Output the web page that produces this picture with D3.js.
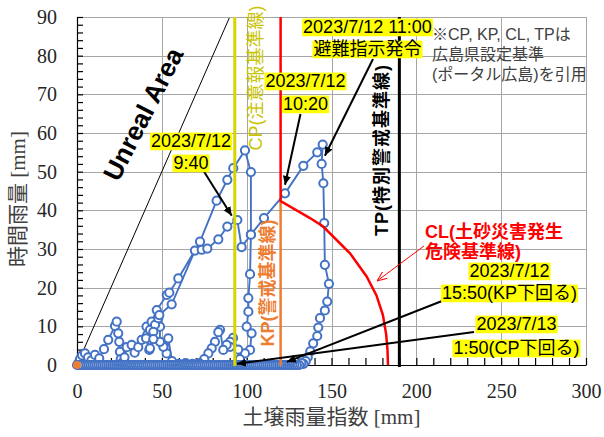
<!DOCTYPE html>
<html>
<head>
<meta charset="utf-8">
<script src="https://cdn.jsdelivr.net/npm/d3@7"></script>
<style>
  body { margin: 0; background: #fff; }
  svg { display: block; }
  .tick-labels text { font-family: "Liberation Serif", "Times New Roman", serif; font-size: 20px; fill: #262626; }
  .axis-title { font-family: "Liberation Serif", "Noto Sans CJK JP", serif; font-size: 21px; fill: #404040; }
  .callout { font-family: "Liberation Sans", "Noto Sans CJK JP", sans-serif; font-size: 18px; fill: #000; }
  .note { font-family: "Liberation Sans", "Noto Sans CJK JP", sans-serif; font-size: 16px; fill: #404040; }
  .line-label { font-family: "Liberation Sans", "Noto Sans CJK JP", sans-serif; font-size: 18px; }
</style>
</head>
<body>
<svg id="chart"></svg>
<script>
// set svg size and plot margins
const width = 604;
const height = 437;
const margin = { top: 17, right: 18, bottom: 72, left: 77 };

// snake line: soil water index [mm] vs hourly rainfall [mm], in time order
const soilIndex = [
  0, 0.8, 1.8, 3, 4.7, 6.5, 8.5, 10.6, 13.1, 15.9, 18.4, 22.4, 23.4, 24.3, 24.9, 25.3, 25.8, 26.5,
  28, 29.3, 32.2, 34, 36.1, 38.1, 41, 41.4, 43, 44, 47, 52.9, 54.4, 59.7, 72.5, 82.3, 88.6, 92.1,
  99, 102.5, 102.5, 102, 101, 101, 100, 102.9, 102, 99, 96, 95, 92, 90.2, 90.2, 88.2, 86.2, 84.3, 83.3, 81.3,
  79.4, 77.4, 75, 72, 68, 64, 60, 56, 53.8, 52.8, 50.9, 48.9, 48.9, 46, 45, 42.6, 40.7, 43, 45, 47.9, 48.5,
  55.8, 69.5, 73.5, 76.8, 83.3, 88.6, 94.5, 97, 102.5, 110.2, 122.6, 133.4, 141.6, 144.8, 144.2, 145.2, 145.7, 146.1, 148.5,
  147.5, 146.1, 143.2, 142.2, 141.6, 139.2, 137.5, 136, 134.8, 133.5, 132.2, 131
];
const hourlyRain = [
  0, 0.5, 1.5, 2.5, 3, 2, 1.2, 2.6, 1.7, 4.1, 6.5, 10.1, 11.2, 8.2, 6, 3.4, 1.5, 0.5,
  2, 4.6, 5.2, 3.2, 4.6, 6.5, 9.9, 7.8, 9.1, 11.2, 14.2, 18.1, 18.7, 22.4, 31.9, 42.5, 47.9, 50.9,
  55.5, 49.9, 33.7, 23.5, 17.3, 13.8, 9.9, 8.2, 3.9, 3, 1.5, 4, 7, 6, 4.7, 5.2, 3.9, 9.1, 8.5, 6,
  4.3, 3, 1.5, 0.5, 0.3, 0.5, 0.3, 1, 6.9, 3, 4.7, 6, 9.9, 10.4, 8.6, 3.9, 6.9, 4.3, 6.7, 12.1, 12.9,
  15.7, 29.6, 29.8, 30.1, 32.5, 35.8, 37.5, 30.5, 33.7, 38, 44.4, 51.5, 55, 57, 52, 47, 36.7, 25.9, 21,
  16.4, 14.1, 12.1, 9.7, 7.5, 5.6, 3.5, 2, 1, 0.3, 0.5, 0
];
// dry spell after the event: hourly rainfall 0, soil index falling (dense 10-minute steps)
const recessionIndex = [
  129.6, 128.2, 126.9, 125.6, 124.4, 123.2, 122, 120.8, 119.6, 118.4, 117.2, 116, 114.8, 113.6,
  112.4, 111.2, 110, 108.8, 107.6, 106.4, 105.2, 104, 102.8, 101.6, 100.4, 99.2, 98, 96.8, 95.6,
  94.4, 93.2, 92, 90.8, 89.6, 88.4, 87.2, 86, 84.8, 83.6, 82.4, 81.2, 80, 78.8, 77.6, 76.4, 75.2,
  74, 72.8, 71.6, 70.4, 69.2, 68, 66.8, 65.6, 64.4, 63.2, 62, 60.8, 59.6, 58.4, 57.2, 56, 54.8,
  53.6, 52.4, 51.2, 50, 48.8, 47.6, 46.4, 45.2, 44, 42.8, 41.6, 40.4, 39.2, 38, 36.8, 35.6, 34.4,
  33.2, 32, 30.8, 29.6, 28.4, 27.2, 26, 24.8, 23.6, 22.4, 21.2, 20, 18.8, 17.6, 16.4, 15.2, 14,
  12.8, 11.6, 10.4, 9.2, 8, 6.8, 5.6, 4.4, 3.2, 2, 0.8
];

// reference lines (広島県設定基準)
const cpLevel = 93;
const kpLevel = 120;
const tpLevel = 190;
const clIndex = [120, 120, 137.3, 145.1, 160.9, 170.7, 176.5, 180.3, 182.2, 183, 183.3];
const clRain = [90, 42.4, 38, 35.8, 28.9, 22.9, 18, 12.9, 8, 4, 0];

const xTicks = [0, 50, 100, 150, 200, 250, 300];
const yTicks = [0, 10, 20, 30, 40, 50, 60, 70, 80, 90];

const blue = "#4472c4";
const orange = "#ed7d31";

const svg = d3.select("#chart").attr("width", width).attr("height", height);

const x = d3.scaleLinear().domain([0, 300]).range([margin.left, width - margin.right]);
const y = d3.scaleLinear().domain([0, 90]).range([height - margin.bottom, margin.top]);

function translate(a, b) {
  return "translate(" + String(a) + "," + String(b) + ")";
}

// axes go first so the dry-spell points sit on top of the x axis like in excel
drawGrid();
drawAxis();
drawSnake();
drawThresholds();
drawTitles();
drawCallouts();

function drawGrid() {
  let grid = svg.append("g").attr("id", "grid").attr("stroke", "#a6a6a6").attr("stroke-width", 1);
  grid.selectAll("line.h").data(yTicks.slice(1)).join("line")
    .attr("class", "h")
    .attr("x1", x(0)).attr("x2", x(300))
    .attr("y1", d => Math.round(y(d)) + 0.5).attr("y2", d => Math.round(y(d)) + 0.5);
  grid.selectAll("line.v").data(xTicks.slice(1)).join("line")
    .attr("class", "v")
    .attr("y1", y(0)).attr("y2", y(90))
    .attr("x1", d => Math.round(x(d)) + 0.5).attr("x2", d => Math.round(x(d)) + 0.5);

  // unreal area boundary (rain can not exceed index)
  svg.append("line")
    .attr("x1", x(0)).attr("y1", y(0)).attr("x2", x(90)).attr("y2", y(90))
    .attr("stroke", "#000").attr("stroke-width", 1);
  svg.append("text")
    .attr("transform", translate(143, 114) + " rotate(-63)")
    .attr("text-anchor", "middle").attr("dy", "0.35em")
    .attr("font-family", "Liberation Sans, Arial, sans-serif")
    .attr("font-weight", "bold").attr("font-size", 26)
    .text("Unreal Area");
}

function drawSnake() {
  let pts = soilIndex.map((d, i) => ({ x: d, y: hourlyRain[i] }))
    .concat(recessionIndex.map(d => ({ x: d, y: 0 })));

  let line = d3.line().x(d => x(d.x)).y(d => y(d.y));
  svg.append("path").datum(pts)
    .attr("d", line)
    .attr("fill", "none").attr("stroke", blue).attr("stroke-width", 1.9);

  svg.append("g").attr("id", "points")
    .selectAll("circle").data(pts).join("circle")
    .attr("cx", d => x(d.x)).attr("cy", d => y(d.y)).attr("r", 4.1)
    .attr("fill", "#fff").attr("stroke", blue).attr("stroke-width", 2);

  // start point
  svg.append("circle").attr("cx", x(0)).attr("cy", y(0)).attr("r", 4).attr("fill", orange);
}

function drawThresholds() {
  svg.append("line")
    .attr("x1", x(cpLevel)).attr("x2", x(cpLevel)).attr("y1", y(0) + 1).attr("y2", y(90))
    .attr("stroke", "#d8d400").attr("stroke-width", 3);
  svg.append("line")
    .attr("x1", x(kpLevel)).attr("x2", x(kpLevel)).attr("y1", y(0) + 1).attr("y2", y(42.4))
    .attr("stroke", orange).attr("stroke-width", 2.5);
  svg.append("line")
    .attr("x1", x(tpLevel)).attr("x2", x(tpLevel)).attr("y1", y(0) + 2).attr("y2", y(90))
    .attr("stroke", "#000").attr("stroke-width", 3);

  let cl = clIndex.map((d, i) => [x(d), y(clRain[i])]);
  svg.append("path")
    .attr("d", d3.line()(cl))
    .attr("fill", "none").attr("stroke", "#ff0000").attr("stroke-width", 2.5);

  // rotated labels next to the lines
  svg.append("text").attr("class", "line-label")
    .attr("transform", translate(256, 78) + " rotate(-90)")
    .attr("text-anchor", "middle").attr("dy", "0.35em")
    .attr("fill", "#c8c400")
    .text("CP(注意報基準線)");
  svg.append("text").attr("class", "line-label")
    .attr("transform", translate(268, 283) + " rotate(-90)")
    .attr("text-anchor", "middle").attr("dy", "0.35em")
    .attr("fill", orange).attr("font-weight", "bold")
    .text("KP(警戒基準線)");
  svg.append("text").attr("class", "line-label")
    .attr("transform", translate(382, 150) + " rotate(-90)")
    .attr("text-anchor", "middle").attr("dy", "0.35em")
    .attr("fill", "#000").attr("font-weight", "bold").attr("letter-spacing", 1)
    .text("TP(特別警戒基準線)");
}

function drawAxis() {
  // plot border top / right
  svg.append("path")
    .attr("d", "M" + x(0) + "," + (y(90) + 0.5) + "H" + (x(300) + 0.5) + "V" + y(0))
    .attr("fill", "none").attr("stroke", "#a6a6a6");

  let xMinor = d3.axisBottom(x).tickValues(d3.range(0, 301, 10)).tickSize(-7).tickSizeOuter(0).tickFormat("");
  let yMinor = d3.axisLeft(y).tickValues(d3.range(0, 91, 2)).tickSize(-6).tickSizeOuter(0).tickFormat("");

  svg.append("g").attr("id", "x-axis").attr("transform", translate(0, y(0))).call(xMinor);
  svg.append("g").attr("id", "y-axis").attr("transform", translate(x(0), 0)).call(yMinor);
  svg.selectAll("#x-axis path, #x-axis line, #y-axis path, #y-axis line").attr("stroke", "#000").attr("stroke-width", 1.2);

  svg.append("g").attr("class", "tick-labels")
    .attr("transform", translate(0, y(0)))
    .call(d3.axisBottom(x).tickValues(xTicks).tickSize(0).tickPadding(19))
    .call(g => g.select(".domain").remove())
    .attr("font-size", null).attr("font-family", null);

  svg.append("g").attr("class", "tick-labels")
    .attr("transform", translate(x(0), 0))
    .call(d3.axisLeft(y).tickValues(yTicks).tickSize(0).tickPadding(20))
    .call(g => g.select(".domain").remove())
    .attr("font-size", null).attr("font-family", null);
}

function drawTitles() {
  svg.append("text").attr("class", "axis-title")
    .attr("x", (x(0) + x(300)) / 2).attr("y", 424)
    .attr("text-anchor", "middle")
    .text("土壌雨量指数 [mm]");

  svg.append("text").attr("class", "axis-title")
    .attr("transform", translate(18, 199) + " rotate(-90)")
    .attr("text-anchor", "middle").attr("dy", "0.35em")
    .text("時間雨量 [mm]");

  let note = svg.append("text").attr("class", "note");
  ["※CP, KP, CL, TPは", "広島県設定基準", "(ポータル広島)を引用"].forEach((s, i) => {
    note.append("tspan").attr("x", 432).attr("y", 40 + i * 20).text(s);
  });

  let cl = svg.append("text").attr("class", "line-label")
    .attr("fill", "#ff0000").attr("font-weight", "bold");
  ["CL(土砂災害発生", "危険基準線)"].forEach((s, i) => {
    cl.append("tspan").attr("x", 425).attr("y", 238 + i * 20).text(s);
  });
}

function drawCallouts() {
  let defs = svg.append("defs");
  defs.append("marker").attr("id", "head")
    .attr("viewBox", "0 -5 10 10").attr("refX", 10).attr("refY", 0)
    .attr("markerWidth", 9).attr("markerHeight", 9).attr("markerUnits", "userSpaceOnUse")
    .attr("orient", "auto")
    .append("path").attr("d", "M0,-4.5L10,0L0,4.5Z").attr("fill", "#000");
  defs.append("marker").attr("id", "head-red")
    .attr("viewBox", "0 -5 10 10").attr("refX", 10).attr("refY", 0)
    .attr("markerWidth", 10).attr("markerHeight", 10).attr("markerUnits", "userSpaceOnUse")
    .attr("orient", "auto")
    .append("path").attr("d", "M0,-4L10,0L0,4").attr("fill", "none").attr("stroke", "#ff0000").attr("stroke-width", 1);

  const callouts = [
    { lines: ["2023/7/12", "9:40"], cx: 191, base: [147, 169], from: [203, 170], to: [91.2, 38.6] },
    { lines: ["2023/7/12", "10:20"], cx: 305.5, base: [87, 110], from: [300.5, 114], to: [122.6, 46.6] },
    { lines: ["2023/7/12 11:00", "避難指示発令"], cx: 367.5, base: [33, 55], from: [373, 59], to: [146.1, 54.1] },
    { lines: ["2023/7/12", "15:50(KP下回る)"], cx: 509.5, base: [277, 299], from: [442, 301], to: [123.7, 0.8] },
    { lines: ["2023/7/13", "1:50(CP下回る)"], cx: 516.5, base: [330, 354], from: [474, 332], to: [94.3, 0.3] }
  ];

  let fs = 18;
  let layer = svg.append("g").attr("id", "callouts");

  callouts.forEach(c => {
    layer.append("line")
      .attr("x1", c.from[0]).attr("y1", c.from[1])
      .attr("x2", x(c.to[0])).attr("y2", y(c.to[1]))
      .attr("stroke", "#000").attr("stroke-width", 2)
      .attr("marker-end", "url(#head)");
  });

  callouts.forEach(c => {
    c.lines.forEach((s, i) => {
      let g = layer.append("g");
      let t = g.append("text").attr("class", "callout")
        .attr("x", c.cx).attr("y", c.base[i])
        .attr("text-anchor", "middle").text(s);
      let b = t.node().getBBox();
      g.insert("rect", "text")
        .attr("x", b.x - 1).attr("y", c.base[i] - 0.8 * fs)
        .attr("width", b.width + 2).attr("height", 0.98 * fs)
        .attr("fill", "#ffff00");
    });
  });

  // CL pointer
  svg.append("line")
    .attr("x1", 424).attr("y1", 246).attr("x2", 377).attr("y2", 281)
    .attr("stroke", "#ff0000").attr("stroke-width", 1)
    .attr("marker-end", "url(#head-red)");
}
</script>
</body>
</html>
